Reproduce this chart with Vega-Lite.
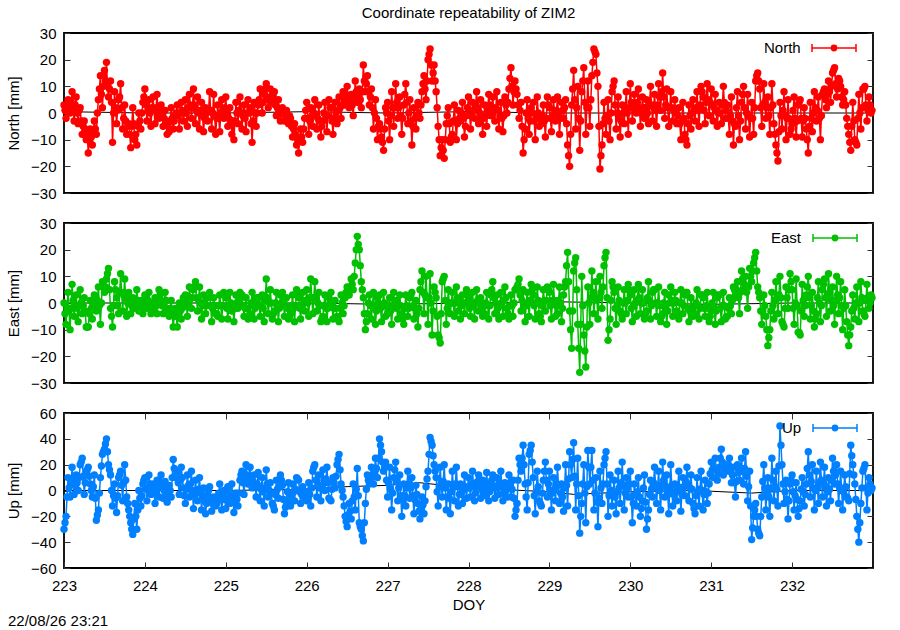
{
  "$schema": "https://vega.github.io/schema/vega-lite/v6.json",
  "background": "white",
  "padding": {"left": 5, "top": 5, "right": 5, "bottom": 0},
  "spacing": 13,
  "config": {
    "font": "Liberation Sans",
    "view": {"stroke": "black", "strokeWidth": 1.8},
    "axis": {
      "domain": false, "grid": false, "labelFlush": false,
      "labelFont": "Liberation Sans", "labelFontSize": 15, "labelColor": "black",
      "titleFont": "Liberation Sans", "titleFontSize": 15, "titleFontWeight": "normal", "titleColor": "black",
      "tickColor": "#333", "tickSize": -6, "tickWidth": 1, "labelPadding": 14
    },
    "legend": {
      "orient": "none", "titleOrient": "left", "titleFontSize": 15, "titleFontWeight": "normal",
      "titleFont": "Liberation Sans", "titleColor": "black", "titlePadding": 10, "padding": 0,
      "titleBaseline": "middle", "titleAnchor": "middle",
      "labelOffset": 0, "clipHeight": 12,
      "symbolType": "M-1,0H1M-1,-0.18V0.18M1,-0.18V0.18M0.12,0A0.12,0.12 0 1,1 -0.12,0A0.12,0.12 0 1,1 0.12,0Z",
      "symbolSize": 1936, "symbolStrokeWidth": 1.5
    }
  },
  "datasets": {
    "mN": [{"t":223,"v":0.5},{"t":224,"v":0},{"t":225,"v":0},{"t":226,"v":0.5},{"t":227,"v":0},{"t":228,"v":0.5},{"t":229,"v":0},{"t":230,"v":0},{"t":231,"v":0},{"t":232,"v":0},{"t":233,"v":0}],
    "mE": [{"t":223,"v":0},{"t":224,"v":0},{"t":225,"v":0},{"t":226,"v":0},{"t":227,"v":-0.5},{"t":228,"v":0},{"t":229,"v":0.5},{"t":230,"v":0},{"t":231,"v":-0.5},{"t":232,"v":0},{"t":233,"v":0}],
    "mU": [{"t":223,"v":0},{"t":224,"v":0},{"t":225,"v":0},{"t":226,"v":1},{"t":226.5,"v":3},{"t":227,"v":4},{"t":227.4,"v":6},{"t":228,"v":2},{"t":229,"v":-1},{"t":229.3,"v":-3},{"t":230,"v":-1},{"t":230.8,"v":0},{"t":231.5,"v":-2},{"t":232,"v":0},{"t":233,"v":0}],
    "north": [
      {"t":223,"v":3},{"t":223.025,"v":-2},{"t":223.05,"v":5},{"t":223.075,"v":0},
      {"t":223.1,"v":8},{"t":223.125,"v":-3},{"t":223.15,"v":6},{"t":223.175,"v":-4},
      {"t":223.2,"v":2},{"t":223.225,"v":-8},{"t":223.25,"v":-3},{"t":223.275,"v":-10},
      {"t":223.3,"v":-15},{"t":223.325,"v":-6},{"t":223.35,"v":-12},{"t":223.375,"v":-3},
      {"t":223.4,"v":-8},{"t":223.425,"v":5},{"t":223.45,"v":14},{"t":223.475,"v":2},
      {"t":223.5,"v":16},{"t":223.525,"v":19},{"t":223.55,"v":6},{"t":223.575,"v":12},
      {"t":223.6,"v":-11},{"t":223.625,"v":8},{"t":223.65,"v":-4},{"t":223.675,"v":5},
      {"t":223.7,"v":11},{"t":223.725,"v":-6},{"t":223.75,"v":3},{"t":223.775,"v":-8},
      {"t":223.8,"v":-4},{"t":223.825,"v":-13},{"t":223.85,"v":2},{"t":223.875,"v":-10},
      {"t":223.9,"v":-12},{"t":223.925,"v":0},{"t":223.95,"v":-6},{"t":223.975,"v":4},
      {"t":224,"v":9},{"t":224.025,"v":-3},{"t":224.05,"v":5},{"t":224.075,"v":-5},
      {"t":224.1,"v":6},{"t":224.125,"v":-4},{"t":224.15,"v":7},{"t":224.175,"v":-2},
      {"t":224.2,"v":3},{"t":224.225,"v":-5},{"t":224.25,"v":1},{"t":224.275,"v":-8},
      {"t":224.3,"v":-7},{"t":224.325,"v":2},{"t":224.35,"v":-6},{"t":224.375,"v":-1},
      {"t":224.4,"v":3},{"t":224.425,"v":-6},{"t":224.45,"v":4},{"t":224.475,"v":-3},
      {"t":224.5,"v":5},{"t":224.525,"v":-5},{"t":224.55,"v":7},{"t":224.575,"v":-2},
      {"t":224.6,"v":9},{"t":224.625,"v":-4},{"t":224.65,"v":6},{"t":224.675,"v":-6},
      {"t":224.7,"v":4},{"t":224.725,"v":-7},{"t":224.75,"v":2},{"t":224.775,"v":-3},
      {"t":224.8,"v":8},{"t":224.825,"v":-6},{"t":224.85,"v":7},{"t":224.875,"v":-8},
      {"t":224.9,"v":3},{"t":224.925,"v":-7},{"t":224.95,"v":5},{"t":224.975,"v":-2},
      {"t":225,"v":6},{"t":225.025,"v":-5},{"t":225.05,"v":2},{"t":225.075,"v":-8},
      {"t":225.1,"v":-10},{"t":225.125,"v":4},{"t":225.15,"v":-4},{"t":225.175,"v":6},
      {"t":225.2,"v":-6},{"t":225.225,"v":3},{"t":225.25,"v":-7},{"t":225.275,"v":5},
      {"t":225.3,"v":2},{"t":225.325,"v":-11},{"t":225.35,"v":4},{"t":225.375,"v":-5},
      {"t":225.4,"v":3},{"t":225.425,"v":9},{"t":225.45,"v":0},{"t":225.475,"v":7},
      {"t":225.5,"v":11},{"t":225.525,"v":2},{"t":225.55,"v":9},{"t":225.575,"v":4},
      {"t":225.6,"v":8},{"t":225.625,"v":-1},{"t":225.65,"v":5},{"t":225.675,"v":-3},
      {"t":225.7,"v":2},{"t":225.725,"v":-3},{"t":225.75,"v":1},{"t":225.775,"v":-4},
      {"t":225.8,"v":-2},{"t":225.825,"v":-9},{"t":225.85,"v":-4},{"t":225.875,"v":-12},
      {"t":225.9,"v":-15},{"t":225.925,"v":-6},{"t":225.95,"v":-11},{"t":225.975,"v":-2},
      {"t":226,"v":4},{"t":226.025,"v":-8},{"t":226.05,"v":2},{"t":226.075,"v":-5},
      {"t":226.1,"v":5},{"t":226.125,"v":-6},{"t":226.15,"v":3},{"t":226.175,"v":-9},
      {"t":226.2,"v":-3},{"t":226.225,"v":4},{"t":226.25,"v":-7},{"t":226.275,"v":5},
      {"t":226.3,"v":2},{"t":226.325,"v":-8},{"t":226.35,"v":4},{"t":226.375,"v":-4},
      {"t":226.4,"v":6},{"t":226.425,"v":-2},{"t":226.45,"v":8},{"t":226.475,"v":3},
      {"t":226.5,"v":10},{"t":226.525,"v":2},{"t":226.55,"v":7},{"t":226.575,"v":-1},
      {"t":226.6,"v":12},{"t":226.625,"v":4},{"t":226.65,"v":9},{"t":226.675,"v":2},
      {"t":226.7,"v":18},{"t":226.725,"v":8},{"t":226.75,"v":14},{"t":226.775,"v":3},
      {"t":226.8,"v":9},{"t":226.825,"v":-6},{"t":226.85,"v":5},{"t":226.875,"v":-10},
      {"t":226.9,"v":-4},{"t":226.925,"v":-9},{"t":226.95,"v":-14},{"t":226.975,"v":2},
      {"t":227,"v":4},{"t":227.025,"v":-10},{"t":227.05,"v":8},{"t":227.075,"v":-5},
      {"t":227.1,"v":11},{"t":227.125,"v":-2},{"t":227.15,"v":6},{"t":227.175,"v":-8},
      {"t":227.2,"v":3},{"t":227.225,"v":11},{"t":227.25,"v":-4},{"t":227.275,"v":5},
      {"t":227.3,"v":-12},{"t":227.325,"v":2},{"t":227.35,"v":-6},{"t":227.375,"v":4},
      {"t":227.4,"v":-2},{"t":227.425,"v":8},{"t":227.45,"v":14},{"t":227.475,"v":5},
      {"t":227.5,"v":20},{"t":227.525,"v":24},{"t":227.55,"v":12},{"t":227.575,"v":18},
      {"t":227.6,"v":8},{"t":227.625,"v":-5},{"t":227.65,"v":-16},{"t":227.675,"v":-10},
      {"t":227.7,"v":-17},{"t":227.725,"v":-4},{"t":227.75,"v":2},{"t":227.775,"v":-11},
      {"t":227.8,"v":-8},{"t":227.825,"v":3},{"t":227.85,"v":-10},{"t":227.875,"v":1},
      {"t":227.9,"v":-3},{"t":227.925,"v":4},{"t":227.95,"v":-9},{"t":227.975,"v":-1},
      {"t":228,"v":6},{"t":228.025,"v":-6},{"t":228.05,"v":4},{"t":228.075,"v":-2},
      {"t":228.1,"v":8},{"t":228.125,"v":-4},{"t":228.15,"v":5},{"t":228.175,"v":-8},
      {"t":228.2,"v":3},{"t":228.225,"v":-5},{"t":228.25,"v":7},{"t":228.275,"v":-1},
      {"t":228.3,"v":6},{"t":228.325,"v":-3},{"t":228.35,"v":8},{"t":228.375,"v":-6},
      {"t":228.4,"v":4},{"t":228.425,"v":-7},{"t":228.45,"v":6},{"t":228.475,"v":0},
      {"t":228.5,"v":9},{"t":228.525,"v":17},{"t":228.55,"v":3},{"t":228.575,"v":12},
      {"t":228.6,"v":7},{"t":228.625,"v":-2},{"t":228.65,"v":4},{"t":228.675,"v":-15},
      {"t":228.7,"v":-6},{"t":228.725,"v":5},{"t":228.75,"v":-8},{"t":228.775,"v":2},
      {"t":228.8,"v":4},{"t":228.825,"v":-10},{"t":228.85,"v":6},{"t":228.875,"v":-5},
      {"t":228.9,"v":-4},{"t":228.925,"v":3},{"t":228.95,"v":-9},{"t":228.975,"v":6},
      {"t":229,"v":2},{"t":229.025,"v":-7},{"t":229.05,"v":5},{"t":229.075,"v":-3},
      {"t":229.1,"v":6},{"t":229.125,"v":-8},{"t":229.15,"v":4},{"t":229.175,"v":-2},
      {"t":229.2,"v":5},{"t":229.225,"v":-12},{"t":229.25,"v":-20},{"t":229.275,"v":3},
      {"t":229.3,"v":16},{"t":229.325,"v":-6},{"t":229.35,"v":10},{"t":229.375,"v":-14},
      {"t":229.4,"v":8},{"t":229.425,"v":17},{"t":229.45,"v":-8},{"t":229.475,"v":12},
      {"t":229.5,"v":-5},{"t":229.525,"v":14},{"t":229.55,"v":24},{"t":229.575,"v":22},
      {"t":229.6,"v":10},{"t":229.625,"v":-21},{"t":229.65,"v":-12},{"t":229.675,"v":4},
      {"t":229.7,"v":-8},{"t":229.725,"v":5},{"t":229.75,"v":-10},{"t":229.775,"v":8},
      {"t":229.8,"v":12},{"t":229.825,"v":-6},{"t":229.85,"v":6},{"t":229.875,"v":-9},
      {"t":229.9,"v":3},{"t":229.925,"v":-4},{"t":229.95,"v":8},{"t":229.975,"v":-8},
      {"t":230,"v":11},{"t":230.025,"v":-3},{"t":230.05,"v":7},{"t":230.075,"v":0},
      {"t":230.1,"v":9},{"t":230.125,"v":-5},{"t":230.15,"v":6},{"t":230.175,"v":-2},
      {"t":230.2,"v":5},{"t":230.225,"v":-4},{"t":230.25,"v":10},{"t":230.275,"v":-3},
      {"t":230.3,"v":7},{"t":230.325,"v":-5},{"t":230.35,"v":11},{"t":230.375,"v":1},
      {"t":230.4,"v":15},{"t":230.425,"v":-2},{"t":230.45,"v":9},{"t":230.475,"v":-5},
      {"t":230.5,"v":8},{"t":230.525,"v":-3},{"t":230.55,"v":5},{"t":230.575,"v":-4},
      {"t":230.6,"v":2},{"t":230.625,"v":-10},{"t":230.65,"v":4},{"t":230.675,"v":-8},
      {"t":230.7,"v":-12},{"t":230.725,"v":3},{"t":230.75,"v":-6},{"t":230.775,"v":5},
      {"t":230.8,"v":-3},{"t":230.825,"v":8},{"t":230.85,"v":-5},{"t":230.875,"v":10},
      {"t":230.9,"v":6},{"t":230.925,"v":-4},{"t":230.95,"v":11},{"t":230.975,"v":-1},
      {"t":231,"v":9},{"t":231.025,"v":-3},{"t":231.05,"v":7},{"t":231.075,"v":-5},
      {"t":231.1,"v":4},{"t":231.125,"v":-4},{"t":231.15,"v":10},{"t":231.175,"v":-2},
      {"t":231.2,"v":3},{"t":231.225,"v":-8},{"t":231.25,"v":6},{"t":231.275,"v":-12},
      {"t":231.3,"v":-5},{"t":231.325,"v":8},{"t":231.35,"v":-10},{"t":231.375,"v":4},
      {"t":231.4,"v":10},{"t":231.425,"v":-6},{"t":231.45,"v":7},{"t":231.475,"v":-9},
      {"t":231.5,"v":4},{"t":231.525,"v":-8},{"t":231.55,"v":12},{"t":231.575,"v":15},
      {"t":231.6,"v":9},{"t":231.625,"v":-5},{"t":231.65,"v":11},{"t":231.675,"v":-2},
      {"t":231.7,"v":6},{"t":231.725,"v":-8},{"t":231.75,"v":11},{"t":231.775,"v":-4},
      {"t":231.8,"v":-12},{"t":231.825,"v":-18},{"t":231.85,"v":4},{"t":231.875,"v":-6},
      {"t":231.9,"v":8},{"t":231.925,"v":-10},{"t":231.95,"v":5},{"t":231.975,"v":-8},
      {"t":232,"v":-4},{"t":232.025,"v":6},{"t":232.05,"v":-9},{"t":232.075,"v":3},
      {"t":232.1,"v":5},{"t":232.125,"v":-9},{"t":232.15,"v":2},{"t":232.175,"v":-6},
      {"t":232.2,"v":-15},{"t":232.225,"v":4},{"t":232.25,"v":-7},{"t":232.275,"v":8},
      {"t":232.3,"v":-3},{"t":232.325,"v":6},{"t":232.35,"v":-10},{"t":232.375,"v":7},
      {"t":232.4,"v":9},{"t":232.425,"v":2},{"t":232.45,"v":12},{"t":232.475,"v":4},
      {"t":232.5,"v":15},{"t":232.525,"v":17},{"t":232.55,"v":6},{"t":232.575,"v":13},
      {"t":232.6,"v":10},{"t":232.625,"v":3},{"t":232.65,"v":8},{"t":232.675,"v":-2},
      {"t":232.7,"v":-8},{"t":232.725,"v":-14},{"t":232.75,"v":4},{"t":232.775,"v":-10},
      {"t":232.8,"v":-12},{"t":232.825,"v":7},{"t":232.85,"v":-6},{"t":232.875,"v":9},
      {"t":232.9,"v":10},{"t":232.925,"v":-3},{"t":232.95,"v":6},{"t":232.975,"v":0},
      {"t":223.0125,"v":1},{"t":223.0375,"v":2},{"t":223.0625,"v":1},{"t":223.0875,"v":4},
      {"t":223.1125,"v":2},{"t":223.1375,"v":3},{"t":223.1625,"v":0},{"t":223.1875,"v":1},
      {"t":223.2125,"v":-3},{"t":223.2375,"v":-5},{"t":223.2625,"v":-6},{"t":223.2875,"v":-8},
      {"t":223.3125,"v":-10},{"t":223.3375,"v":-9},{"t":223.3625,"v":-7},{"t":223.3875,"v":-6},
      {"t":223.4125,"v":0},{"t":223.4375,"v":9},{"t":223.4625,"v":7},{"t":223.4875,"v":10},
      {"t":223.5125,"v":12},{"t":223.5375,"v":10},{"t":223.5625,"v":9},{"t":223.5875,"v":4},
      {"t":223.6125,"v":0},{"t":223.6375,"v":2},{"t":223.6625,"v":1},{"t":223.6875,"v":6},
      {"t":223.7125,"v":2},{"t":223.7375,"v":-2},{"t":223.7625,"v":-3},{"t":223.7875,"v":-5},
      {"t":223.8125,"v":-8},{"t":223.8375,"v":-5},{"t":223.8625,"v":-4},{"t":223.8875,"v":-8},
      {"t":223.9125,"v":-5},{"t":223.9375,"v":-3},{"t":223.9625,"v":0},{"t":223.9875,"v":6},
      {"t":224.0125,"v":3},{"t":224.0375,"v":1},{"t":224.0625,"v":0},{"t":224.0875,"v":2},
      {"t":224.1125,"v":1},{"t":224.1375,"v":2},{"t":224.1625,"v":0},{"t":224.1875,"v":1},
      {"t":224.2125,"v":-1},{"t":224.2375,"v":-2},{"t":224.2625,"v":-3},{"t":224.2875,"v":-4},
      {"t":224.3125,"v":-3},{"t":224.3375,"v":-2},{"t":224.3625,"v":-3},{"t":224.3875,"v":0},
      {"t":224.4125,"v":-1},{"t":224.4375,"v":0},{"t":224.4625,"v":1},{"t":224.4875,"v":0},
      {"t":224.5125,"v":0},{"t":224.5375,"v":2},{"t":224.5625,"v":3},{"t":224.5875,"v":2},
      {"t":224.6125,"v":3},{"t":224.6375,"v":1},{"t":224.6625,"v":0},{"t":224.6875,"v":1},
      {"t":224.7125,"v":-1},{"t":224.7375,"v":-2},{"t":224.7625,"v":0},{"t":224.7875,"v":1},
      {"t":224.8125,"v":1},{"t":224.8375,"v":0},{"t":224.8625,"v":-1},{"t":224.8875,"v":-2},
      {"t":224.9125,"v":-2},{"t":224.9375,"v":0},{"t":224.9625,"v":1},{"t":224.9875,"v":2},
      {"t":225.0125,"v":0},{"t":225.0375,"v":-2},{"t":225.0625,"v":-3},{"t":225.0875,"v":-3},
      {"t":225.1125,"v":-3},{"t":225.1375,"v":0},{"t":225.1625,"v":1},{"t":225.1875,"v":0},
      {"t":225.2125,"v":-1},{"t":225.2375,"v":-2},{"t":225.2625,"v":0},{"t":225.2875,"v":0},
      {"t":225.3125,"v":-4},{"t":225.3375,"v":-3},{"t":225.3625,"v":0},{"t":225.3875,"v":0},
      {"t":225.4125,"v":5},{"t":225.4375,"v":4},{"t":225.4625,"v":4},{"t":225.4875,"v":9},
      {"t":225.5125,"v":6},{"t":225.5375,"v":5},{"t":225.5625,"v":6},{"t":225.5875,"v":6},
      {"t":225.6125,"v":3},{"t":225.6375,"v":2},{"t":225.6625,"v":1},{"t":225.6875,"v":0},
      {"t":225.7125,"v":0},{"t":225.7375,"v":-1},{"t":225.7625,"v":-2},{"t":225.7875,"v":-1},
      {"t":225.8125,"v":-5},{"t":225.8375,"v":-6},{"t":225.8625,"v":-8},{"t":225.8875,"v":-10},
      {"t":225.9125,"v":-10},{"t":225.9375,"v":-9},{"t":225.9625,"v":-6},{"t":225.9875,"v":1},
      {"t":226.0125,"v":-2},{"t":226.0375,"v":-3},{"t":226.0625,"v":-1},{"t":226.0875,"v":0},
      {"t":226.1125,"v":-1},{"t":226.1375,"v":-2},{"t":226.1625,"v":-3},{"t":226.1875,"v":-5},
      {"t":226.2125,"v":0},{"t":226.2375,"v":-1},{"t":226.2625,"v":-1},{"t":226.2875,"v":2},
      {"t":226.3125,"v":-3},{"t":226.3375,"v":-2},{"t":226.3625,"v":0},{"t":226.3875,"v":1},
      {"t":226.4125,"v":2},{"t":226.4375,"v":3},{"t":226.4625,"v":5},{"t":226.4875,"v":6},
      {"t":226.5125,"v":6},{"t":226.5375,"v":4},{"t":226.5625,"v":3},{"t":226.5875,"v":5},
      {"t":226.6125,"v":8},{"t":226.6375,"v":6},{"t":226.6625,"v":5},{"t":226.6875,"v":8},
      {"t":226.7125,"v":12},{"t":226.7375,"v":11},{"t":226.7625,"v":8},{"t":226.7875,"v":6},
      {"t":226.8125,"v":2},{"t":226.8375,"v":0},{"t":226.8625,"v":-2},{"t":226.8875,"v":-5},
      {"t":226.9125,"v":-6},{"t":226.9375,"v":-11},{"t":226.9625,"v":-6},{"t":226.9875,"v":0},
      {"t":227.0125,"v":-3},{"t":227.0375,"v":-1},{"t":227.0625,"v":2},{"t":227.0875,"v":2},
      {"t":227.1125,"v":4},{"t":227.1375,"v":2},{"t":227.1625,"v":-1},{"t":227.1875,"v":-2},
      {"t":227.2125,"v":7},{"t":227.2375,"v":4},{"t":227.2625,"v":0},{"t":227.2875,"v":-3},
      {"t":227.3125,"v":-5},{"t":227.3375,"v":-2},{"t":227.3625,"v":-1},{"t":227.3875,"v":0},
      {"t":227.4125,"v":3},{"t":227.4375,"v":11},{"t":227.4625,"v":9},{"t":227.4875,"v":12},
      {"t":227.5125,"v":22},{"t":227.5375,"v":18},{"t":227.5625,"v":15},{"t":227.5875,"v":12},
      {"t":227.6125,"v":2},{"t":227.6375,"v":-10},{"t":227.6625,"v":-13},{"t":227.6875,"v":-14},
      {"t":227.7125,"v":-10},{"t":227.7375,"v":-1},{"t":227.7625,"v":-4},{"t":227.7875,"v":-9},
      {"t":227.8125,"v":-3},{"t":227.8375,"v":-3},{"t":227.8625,"v":-4},{"t":227.8875,"v":-2},
      {"t":227.9125,"v":0},{"t":227.9375,"v":-2},{"t":227.9625,"v":-5},{"t":227.9875,"v":2},
      {"t":228.0125,"v":0},{"t":228.0375,"v":-1},{"t":228.0625,"v":1},{"t":228.0875,"v":3},
      {"t":228.1125,"v":2},{"t":228.1375,"v":0},{"t":228.1625,"v":-2},{"t":228.1875,"v":-2},
      {"t":228.2125,"v":-1},{"t":228.2375,"v":1},{"t":228.2625,"v":3},{"t":228.2875,"v":2},
      {"t":228.3125,"v":1},{"t":228.3375,"v":2},{"t":228.3625,"v":1},{"t":228.3875,"v":-1},
      {"t":228.4125,"v":-2},{"t":228.4375,"v":-1},{"t":228.4625,"v":3},{"t":228.4875,"v":4},
      {"t":228.5125,"v":13},{"t":228.5375,"v":10},{"t":228.5625,"v":8},{"t":228.5875,"v":9},
      {"t":228.6125,"v":3},{"t":228.6375,"v":1},{"t":228.6625,"v":-5},{"t":228.6875,"v":-10},
      {"t":228.7125,"v":0},{"t":228.7375,"v":-2},{"t":228.7625,"v":-3},{"t":228.7875,"v":0},
      {"t":228.8125,"v":-3},{"t":228.8375,"v":-2},{"t":228.8625,"v":0},{"t":228.8875,"v":-1},
      {"t":228.9125,"v":-1},{"t":228.9375,"v":-3},{"t":228.9625,"v":-2},{"t":228.9875,"v":3},
      {"t":229.0125,"v":-2},{"t":229.0375,"v":-1},{"t":229.0625,"v":1},{"t":229.0875,"v":1},
      {"t":229.1125,"v":-1},{"t":229.1375,"v":-2},{"t":229.1625,"v":1},{"t":229.1875,"v":2},
      {"t":229.2125,"v":-4},{"t":229.2375,"v":-16},{"t":229.2625,"v":-8},{"t":229.2875,"v":9},
      {"t":229.3125,"v":5},{"t":229.3375,"v":2},{"t":229.3625,"v":-2},{"t":229.3875,"v":-3},
      {"t":229.4125,"v":12},{"t":229.4375,"v":4},{"t":229.4625,"v":2},{"t":229.4875,"v":2},
      {"t":229.5125,"v":5},{"t":229.5375,"v":19},{"t":229.5625,"v":23},{"t":229.5875,"v":15},
      {"t":229.6125,"v":-5},{"t":229.6375,"v":-16},{"t":229.6625,"v":-4},{"t":229.6875,"v":-2},
      {"t":229.7125,"v":-1},{"t":229.7375,"v":-3},{"t":229.7625,"v":0},{"t":229.7875,"v":10},
      {"t":229.8125,"v":3},{"t":229.8375,"v":0},{"t":229.8625,"v":-2},{"t":229.8875,"v":-3},
      {"t":229.9125,"v":0},{"t":229.9375,"v":2},{"t":229.9625,"v":0},{"t":229.9875,"v":2},
      {"t":230.0125,"v":4},{"t":230.0375,"v":2},{"t":230.0625,"v":3},{"t":230.0875,"v":4},
      {"t":230.1125,"v":2},{"t":230.1375,"v":0},{"t":230.1625,"v":2},{"t":230.1875,"v":2},
      {"t":230.2125,"v":0},{"t":230.2375,"v":3},{"t":230.2625,"v":3},{"t":230.2875,"v":2},
      {"t":230.3125,"v":1},{"t":230.3375,"v":3},{"t":230.3625,"v":6},{"t":230.3875,"v":8},
      {"t":230.4125,"v":6},{"t":230.4375,"v":3},{"t":230.4625,"v":2},{"t":230.4875,"v":2},
      {"t":230.5125,"v":2},{"t":230.5375,"v":1},{"t":230.5625,"v":0},{"t":230.5875,"v":-1},
      {"t":230.6125,"v":-4},{"t":230.6375,"v":-3},{"t":230.6625,"v":-2},{"t":230.6875,"v":-10},
      {"t":230.7125,"v":-4},{"t":230.7375,"v":-1},{"t":230.7625,"v":0},{"t":230.7875,"v":1},
      {"t":230.8125,"v":2},{"t":230.8375,"v":1},{"t":230.8625,"v":3},{"t":230.8875,"v":8},
      {"t":230.9125,"v":1},{"t":230.9375,"v":4},{"t":230.9625,"v":5},{"t":230.9875,"v":4},
      {"t":231.0125,"v":3},{"t":231.0375,"v":2},{"t":231.0625,"v":1},{"t":231.0875,"v":0},
      {"t":231.1125,"v":0},{"t":231.1375,"v":3},{"t":231.1625,"v":4},{"t":231.1875,"v":1},
      {"t":231.2125,"v":-2},{"t":231.2375,"v":-1},{"t":231.2625,"v":-3},{"t":231.2875,"v":-4},
      {"t":231.3125,"v":2},{"t":231.3375,"v":-1},{"t":231.3625,"v":-3},{"t":231.3875,"v":7},
      {"t":231.4125,"v":2},{"t":231.4375,"v":0},{"t":231.4625,"v":-1},{"t":231.4875,"v":-2},
      {"t":231.5125,"v":-2},{"t":231.5375,"v":2},{"t":231.5625,"v":14},{"t":231.5875,"v":12},
      {"t":231.6125,"v":2},{"t":231.6375,"v":3},{"t":231.6625,"v":4},{"t":231.6875,"v":2},
      {"t":231.7125,"v":-1},{"t":231.7375,"v":2},{"t":231.7625,"v":3},{"t":231.7875,"v":-8},
      {"t":231.8125,"v":-15},{"t":231.8375,"v":-7},{"t":231.8625,"v":-1},{"t":231.8875,"v":1},
      {"t":231.9125,"v":-1},{"t":231.9375,"v":-2},{"t":231.9625,"v":-2},{"t":231.9875,"v":-6},
      {"t":232.0125,"v":1},{"t":232.0375,"v":-2},{"t":232.0625,"v":-3},{"t":232.0875,"v":4},
      {"t":232.1125,"v":-2},{"t":232.1375,"v":-3},{"t":232.1625,"v":-2},{"t":232.1875,"v":-10},
      {"t":232.2125,"v":-5},{"t":232.2375,"v":-2},{"t":232.2625,"v":0},{"t":232.2875,"v":2},
      {"t":232.3125,"v":1},{"t":232.3375,"v":-2},{"t":232.3625,"v":-1},{"t":232.3875,"v":8},
      {"t":232.4125,"v":5},{"t":232.4375,"v":7},{"t":232.4625,"v":8},{"t":232.4875,"v":10},
      {"t":232.5125,"v":16},{"t":232.5375,"v":11},{"t":232.5625,"v":9},{"t":232.5875,"v":12},
      {"t":232.6125,"v":6},{"t":232.6375,"v":5},{"t":232.6625,"v":3},{"t":232.6875,"v":-5},
      {"t":232.7125,"v":-11},{"t":232.7375,"v":-5},{"t":232.7625,"v":-3},{"t":232.7875,"v":-11},
      {"t":232.8125,"v":-2},{"t":232.8375,"v":0},{"t":232.8625,"v":2},{"t":232.8875,"v":9},
      {"t":232.9125,"v":3},{"t":232.9375,"v":1},{"t":232.9625,"v":3},{"t":232.9875,"v":1}
    ],
    "east": [
      {"t":223,"v":0},{"t":223.025,"v":-8},{"t":223.05,"v":4},{"t":223.075,"v":-10},
      {"t":223.1,"v":7},{"t":223.125,"v":-5},{"t":223.15,"v":3},{"t":223.175,"v":-7},
      {"t":223.2,"v":5},{"t":223.225,"v":-4},{"t":223.25,"v":2},{"t":223.275,"v":-9},
      {"t":223.3,"v":-9},{"t":223.325,"v":1},{"t":223.35,"v":-6},{"t":223.375,"v":3},
      {"t":223.4,"v":-3},{"t":223.425,"v":6},{"t":223.45,"v":-8},{"t":223.475,"v":8},
      {"t":223.5,"v":4},{"t":223.525,"v":9},{"t":223.55,"v":13},{"t":223.575,"v":-2},
      {"t":223.6,"v":-9},{"t":223.625,"v":8},{"t":223.65,"v":2},{"t":223.675,"v":-4},
      {"t":223.7,"v":11},{"t":223.725,"v":-3},{"t":223.75,"v":9},{"t":223.775,"v":-5},
      {"t":223.8,"v":4},{"t":223.825,"v":-4},{"t":223.85,"v":2},{"t":223.875,"v":-2},
      {"t":223.9,"v":5},{"t":223.925,"v":-3},{"t":223.95,"v":1},{"t":223.975,"v":-4},
      {"t":224,"v":3},{"t":224.025,"v":-2},{"t":224.05,"v":4},{"t":224.075,"v":-4},
      {"t":224.1,"v":-3},{"t":224.125,"v":2},{"t":224.15,"v":-4},{"t":224.175,"v":5},
      {"t":224.2,"v":1},{"t":224.225,"v":-4},{"t":224.25,"v":4},{"t":224.275,"v":-2},
      {"t":224.3,"v":-5},{"t":224.325,"v":1},{"t":224.35,"v":-9},{"t":224.375,"v":-2},
      {"t":224.4,"v":-9},{"t":224.425,"v":0},{"t":224.45,"v":-6},{"t":224.475,"v":2},
      {"t":224.5,"v":3},{"t":224.525,"v":-5},{"t":224.55,"v":6},{"t":224.575,"v":-2},
      {"t":224.6,"v":5},{"t":224.625,"v":8},{"t":224.65,"v":-3},{"t":224.675,"v":6},
      {"t":224.7,"v":-6},{"t":224.725,"v":3},{"t":224.75,"v":-4},{"t":224.775,"v":2},
      {"t":224.8,"v":4},{"t":224.825,"v":-7},{"t":224.85,"v":2},{"t":224.875,"v":-4},
      {"t":224.9,"v":-5},{"t":224.925,"v":3},{"t":224.95,"v":-6},{"t":224.975,"v":4},
      {"t":225,"v":2},{"t":225.025,"v":-6},{"t":225.05,"v":4},{"t":225.075,"v":-3},
      {"t":225.1,"v":-7},{"t":225.125,"v":3},{"t":225.15,"v":-2},{"t":225.175,"v":4},
      {"t":225.2,"v":3},{"t":225.225,"v":-5},{"t":225.25,"v":2},{"t":225.275,"v":-6},
      {"t":225.3,"v":-4},{"t":225.325,"v":4},{"t":225.35,"v":-6},{"t":225.375,"v":2},
      {"t":225.4,"v":2},{"t":225.425,"v":-5},{"t":225.45,"v":3},{"t":225.475,"v":-7},
      {"t":225.5,"v":9},{"t":225.525,"v":-4},{"t":225.55,"v":5},{"t":225.575,"v":-6},
      {"t":225.6,"v":-3},{"t":225.625,"v":4},{"t":225.65,"v":-7},{"t":225.675,"v":3},
      {"t":225.7,"v":4},{"t":225.725,"v":-5},{"t":225.75,"v":2},{"t":225.775,"v":-6},
      {"t":225.8,"v":-4},{"t":225.825,"v":3},{"t":225.85,"v":-7},{"t":225.875,"v":5},
      {"t":225.9,"v":2},{"t":225.925,"v":-6},{"t":225.95,"v":4},{"t":225.975,"v":-3},
      {"t":226,"v":5},{"t":226.025,"v":-5},{"t":226.05,"v":9},{"t":226.075,"v":-4},
      {"t":226.1,"v":8},{"t":226.125,"v":-3},{"t":226.15,"v":4},{"t":226.175,"v":-7},
      {"t":226.2,"v":-5},{"t":226.225,"v":3},{"t":226.25,"v":-7},{"t":226.275,"v":2},
      {"t":226.3,"v":4},{"t":226.325,"v":-6},{"t":226.35,"v":1},{"t":226.375,"v":-5},
      {"t":226.4,"v":-7},{"t":226.425,"v":3},{"t":226.45,"v":-4},{"t":226.475,"v":2},
      {"t":226.5,"v":6},{"t":226.525,"v":3},{"t":226.55,"v":9},{"t":226.575,"v":5},
      {"t":226.6,"v":15},{"t":226.625,"v":25},{"t":226.65,"v":20},{"t":226.675,"v":8},
      {"t":226.7,"v":2},{"t":226.725,"v":-10},{"t":226.75,"v":-4},{"t":226.775,"v":3},
      {"t":226.8,"v":-6},{"t":226.825,"v":4},{"t":226.85,"v":-8},{"t":226.875,"v":2},
      {"t":226.9,"v":3},{"t":226.925,"v":-7},{"t":226.95,"v":4},{"t":226.975,"v":-5},
      {"t":227,"v":-4},{"t":227.025,"v":2},{"t":227.05,"v":-8},{"t":227.075,"v":4},
      {"t":227.1,"v":1},{"t":227.125,"v":-6},{"t":227.15,"v":3},{"t":227.175,"v":-4},
      {"t":227.2,"v":-8},{"t":227.225,"v":3},{"t":227.25,"v":-5},{"t":227.275,"v":2},
      {"t":227.3,"v":4},{"t":227.325,"v":-6},{"t":227.35,"v":1},{"t":227.375,"v":-9},
      {"t":227.4,"v":5},{"t":227.425,"v":12},{"t":227.45,"v":-4},{"t":227.475,"v":10},
      {"t":227.5,"v":-8},{"t":227.525,"v":11},{"t":227.55,"v":-12},{"t":227.575,"v":6},
      {"t":227.6,"v":2},{"t":227.625,"v":-12},{"t":227.65,"v":-15},{"t":227.675,"v":8},
      {"t":227.7,"v":10},{"t":227.725,"v":-8},{"t":227.75,"v":5},{"t":227.775,"v":-4},
      {"t":227.8,"v":4},{"t":227.825,"v":-5},{"t":227.85,"v":6},{"t":227.875,"v":-3},
      {"t":227.9,"v":-6},{"t":227.925,"v":3},{"t":227.95,"v":-4},{"t":227.975,"v":5},
      {"t":228,"v":2},{"t":228.025,"v":-5},{"t":228.05,"v":4},{"t":228.075,"v":-6},
      {"t":228.1,"v":5},{"t":228.125,"v":-3},{"t":228.15,"v":2},{"t":228.175,"v":-5},
      {"t":228.2,"v":-4},{"t":228.225,"v":4},{"t":228.25,"v":-6},{"t":228.275,"v":3},
      {"t":228.3,"v":8},{"t":228.325,"v":-4},{"t":228.35,"v":3},{"t":228.375,"v":-6},
      {"t":228.4,"v":4},{"t":228.425,"v":-5},{"t":228.45,"v":6},{"t":228.475,"v":-2},
      {"t":228.5,"v":-6},{"t":228.525,"v":3},{"t":228.55,"v":-5},{"t":228.575,"v":5},
      {"t":228.6,"v":6},{"t":228.625,"v":9},{"t":228.65,"v":-3},{"t":228.675,"v":5},
      {"t":228.7,"v":-7},{"t":228.725,"v":4},{"t":228.75,"v":-5},{"t":228.775,"v":7},
      {"t":228.8,"v":3},{"t":228.825,"v":-6},{"t":228.85,"v":6},{"t":228.875,"v":-4},
      {"t":228.9,"v":-7},{"t":228.925,"v":5},{"t":228.95,"v":-3},{"t":228.975,"v":6},
      {"t":229,"v":4},{"t":229.025,"v":-6},{"t":229.05,"v":7},{"t":229.075,"v":-5},
      {"t":229.1,"v":-4},{"t":229.125,"v":6},{"t":229.15,"v":-7},{"t":229.175,"v":3},
      {"t":229.2,"v":8},{"t":229.225,"v":19},{"t":229.25,"v":-3},{"t":229.275,"v":-17},
      {"t":229.3,"v":12},{"t":229.325,"v":17},{"t":229.35,"v":-8},{"t":229.375,"v":-26},
      {"t":229.4,"v":10},{"t":229.425,"v":-12},{"t":229.45,"v":-24},{"t":229.475,"v":6},
      {"t":229.5,"v":-8},{"t":229.525,"v":12},{"t":229.55,"v":-4},{"t":229.575,"v":8},
      {"t":229.6,"v":-6},{"t":229.625,"v":10},{"t":229.65,"v":-2},{"t":229.675,"v":14},
      {"t":229.7,"v":19},{"t":229.725,"v":-14},{"t":229.75,"v":-6},{"t":229.775,"v":8},
      {"t":229.8,"v":4},{"t":229.825,"v":-8},{"t":229.85,"v":6},{"t":229.875,"v":-3},
      {"t":229.9,"v":-6},{"t":229.925,"v":5},{"t":229.95,"v":-4},{"t":229.975,"v":7},
      {"t":230,"v":3},{"t":230.025,"v":-7},{"t":230.05,"v":5},{"t":230.075,"v":-5},
      {"t":230.1,"v":7},{"t":230.125,"v":-4},{"t":230.15,"v":5},{"t":230.175,"v":-6},
      {"t":230.2,"v":-3},{"t":230.225,"v":8},{"t":230.25,"v":-6},{"t":230.275,"v":4},
      {"t":230.3,"v":5},{"t":230.325,"v":-5},{"t":230.35,"v":6},{"t":230.375,"v":-7},
      {"t":230.4,"v":-4},{"t":230.425,"v":4},{"t":230.45,"v":-8},{"t":230.475,"v":3},
      {"t":230.5,"v":6},{"t":230.525,"v":-5},{"t":230.55,"v":4},{"t":230.575,"v":-3},
      {"t":230.6,"v":-6},{"t":230.625,"v":5},{"t":230.65,"v":-4},{"t":230.675,"v":3},
      {"t":230.7,"v":4},{"t":230.725,"v":-7},{"t":230.75,"v":2},{"t":230.775,"v":-5},
      {"t":230.8,"v":-4},{"t":230.825,"v":5},{"t":230.85,"v":-6},{"t":230.875,"v":3},
      {"t":230.9,"v":2},{"t":230.925,"v":-5},{"t":230.95,"v":4},{"t":230.975,"v":-7},
      {"t":231,"v":-3},{"t":231.025,"v":4},{"t":231.05,"v":-8},{"t":231.075,"v":2},
      {"t":231.1,"v":3},{"t":231.125,"v":-7},{"t":231.15,"v":4},{"t":231.175,"v":-6},
      {"t":231.2,"v":-5},{"t":231.225,"v":2},{"t":231.25,"v":-4},{"t":231.275,"v":6},
      {"t":231.3,"v":3},{"t":231.325,"v":8},{"t":231.35,"v":-4},{"t":231.375,"v":12},
      {"t":231.4,"v":5},{"t":231.425,"v":10},{"t":231.45,"v":-2},{"t":231.475,"v":13},
      {"t":231.5,"v":8},{"t":231.525,"v":15},{"t":231.55,"v":19},{"t":231.575,"v":6},
      {"t":231.6,"v":2},{"t":231.625,"v":-8},{"t":231.65,"v":3},{"t":231.675,"v":-5},
      {"t":231.7,"v":-16},{"t":231.725,"v":-10},{"t":231.75,"v":4},{"t":231.775,"v":-6},
      {"t":231.8,"v":8},{"t":231.825,"v":-4},{"t":231.85,"v":10},{"t":231.875,"v":-7},
      {"t":231.9,"v":-9},{"t":231.925,"v":6},{"t":231.95,"v":-2},{"t":231.975,"v":11},
      {"t":232,"v":5},{"t":232.025,"v":-8},{"t":232.05,"v":9},{"t":232.075,"v":-11},
      {"t":232.1,"v":-12},{"t":232.125,"v":7},{"t":232.15,"v":-5},{"t":232.175,"v":3},
      {"t":232.2,"v":10},{"t":232.225,"v":-6},{"t":232.25,"v":4},{"t":232.275,"v":-9},
      {"t":232.3,"v":-4},{"t":232.325,"v":8},{"t":232.35,"v":-7},{"t":232.375,"v":5},
      {"t":232.4,"v":9},{"t":232.425,"v":-5},{"t":232.45,"v":11},{"t":232.475,"v":-3},
      {"t":232.5,"v":6},{"t":232.525,"v":-8},{"t":232.55,"v":10},{"t":232.575,"v":-4},
      {"t":232.6,"v":8},{"t":232.625,"v":-10},{"t":232.65,"v":5},{"t":232.675,"v":-7},
      {"t":232.7,"v":-16},{"t":232.725,"v":-9},{"t":232.75,"v":3},{"t":232.775,"v":-6},
      {"t":232.8,"v":6},{"t":232.825,"v":-7},{"t":232.85,"v":8},{"t":232.875,"v":-3},
      {"t":232.9,"v":-5},{"t":232.925,"v":7},{"t":232.95,"v":-2},{"t":232.975,"v":3},
      {"t":223.0125,"v":-4},{"t":223.0375,"v":-2},{"t":223.0625,"v":-3},{"t":223.0875,"v":-2},
      {"t":223.1125,"v":1},{"t":223.1375,"v":-1},{"t":223.1625,"v":-2},{"t":223.1875,"v":-1},
      {"t":223.2125,"v":0},{"t":223.2375,"v":-1},{"t":223.2625,"v":-3},{"t":223.2875,"v":-9},
      {"t":223.3125,"v":-4},{"t":223.3375,"v":-2},{"t":223.3625,"v":-1},{"t":223.3875,"v":0},
      {"t":223.4125,"v":1},{"t":223.4375,"v":-1},{"t":223.4625,"v":0},{"t":223.4875,"v":6},
      {"t":223.5125,"v":6},{"t":223.5375,"v":11},{"t":223.5625,"v":5},{"t":223.5875,"v":-5},
      {"t":223.6125,"v":-1},{"t":223.6375,"v":5},{"t":223.6625,"v":-1},{"t":223.6875,"v":4},
      {"t":223.7125,"v":4},{"t":223.7375,"v":3},{"t":223.7625,"v":2},{"t":223.7875,"v":0},
      {"t":223.8125,"v":0},{"t":223.8375,"v":-1},{"t":223.8625,"v":0},{"t":223.8875,"v":1},
      {"t":223.9125,"v":1},{"t":223.9375,"v":-1},{"t":223.9625,"v":-2},{"t":223.9875,"v":0},
      {"t":224.0125,"v":0},{"t":224.0375,"v":1},{"t":224.0625,"v":0},{"t":224.0875,"v":0},
      {"t":224.1125,"v":-1},{"t":224.1375,"v":-1},{"t":224.1625,"v":0},{"t":224.1875,"v":3},
      {"t":224.2125,"v":-1},{"t":224.2375,"v":0},{"t":224.2625,"v":1},{"t":224.2875,"v":-3},
      {"t":224.3125,"v":-2},{"t":224.3375,"v":-4},{"t":224.3625,"v":-5},{"t":224.3875,"v":-5},
      {"t":224.4125,"v":-4},{"t":224.4375,"v":-3},{"t":224.4625,"v":-2},{"t":224.4875,"v":0},
      {"t":224.5125,"v":-1},{"t":224.5375,"v":0},{"t":224.5625,"v":2},{"t":224.5875,"v":2},
      {"t":224.6125,"v":6},{"t":224.6375,"v":2},{"t":224.6625,"v":1},{"t":224.6875,"v":0},
      {"t":224.7125,"v":-1},{"t":224.7375,"v":0},{"t":224.7625,"v":-1},{"t":224.7875,"v":3},
      {"t":224.8125,"v":-1},{"t":224.8375,"v":-2},{"t":224.8625,"v":-1},{"t":224.8875,"v":-4},
      {"t":224.9125,"v":-1},{"t":224.9375,"v":-1},{"t":224.9625,"v":-1},{"t":224.9875,"v":3},
      {"t":225.0125,"v":-2},{"t":225.0375,"v":-1},{"t":225.0625,"v":0},{"t":225.0875,"v":-2},
      {"t":225.1125,"v":-2},{"t":225.1375,"v":0},{"t":225.1625,"v":1},{"t":225.1875,"v":3},
      {"t":225.2125,"v":-1},{"t":225.2375,"v":-2},{"t":225.2625,"v":-2},{"t":225.2875,"v":-5},
      {"t":225.3125,"v":0},{"t":225.3375,"v":-1},{"t":225.3625,"v":-2},{"t":225.3875,"v":0},
      {"t":225.4125,"v":-1},{"t":225.4375,"v":-1},{"t":225.4625,"v":-2},{"t":225.4875,"v":1},
      {"t":225.5125,"v":2},{"t":225.5375,"v":0},{"t":225.5625,"v":0},{"t":225.5875,"v":-4},
      {"t":225.6125,"v":0},{"t":225.6375,"v":-1},{"t":225.6625,"v":-2},{"t":225.6875,"v":0},
      {"t":225.7125,"v":0},{"t":225.7375,"v":-1},{"t":225.7625,"v":-2},{"t":225.7875,"v":-5},
      {"t":225.8125,"v":-1},{"t":225.8375,"v":-2},{"t":225.8625,"v":-1},{"t":225.8875,"v":3},
      {"t":225.9125,"v":-2},{"t":225.9375,"v":-1},{"t":225.9625,"v":0},{"t":225.9875,"v":1},
      {"t":226.0125,"v":0},{"t":226.0375,"v":2},{"t":226.0625,"v":2},{"t":226.0875,"v":2},
      {"t":226.1125,"v":2},{"t":226.1375,"v":0},{"t":226.1625,"v":-1},{"t":226.1875,"v":-6},
      {"t":226.2125,"v":-1},{"t":226.2375,"v":-2},{"t":226.2625,"v":-2},{"t":226.2875,"v":0},
      {"t":226.3125,"v":-1},{"t":226.3375,"v":-2},{"t":226.3625,"v":-2},{"t":226.3875,"v":-6},
      {"t":226.4125,"v":-2},{"t":226.4375,"v":0},{"t":226.4625,"v":-1},{"t":226.4875,"v":4},
      {"t":226.5125,"v":4},{"t":226.5375,"v":6},{"t":226.5625,"v":7},{"t":226.5875,"v":10},
      {"t":226.6125,"v":20},{"t":226.6375,"v":22},{"t":226.6625,"v":14},{"t":226.6875,"v":5},
      {"t":226.7125,"v":-4},{"t":226.7375,"v":-7},{"t":226.7625,"v":0},{"t":226.7875,"v":-1},
      {"t":226.8125,"v":-1},{"t":226.8375,"v":-2},{"t":226.8625,"v":-3},{"t":226.8875,"v":0},
      {"t":226.9125,"v":-2},{"t":226.9375,"v":-1},{"t":226.9625,"v":0},{"t":226.9875,"v":-1},
      {"t":227.0125,"v":-1},{"t":227.0375,"v":-3},{"t":227.0625,"v":-2},{"t":227.0875,"v":0},
      {"t":227.1125,"v":-2},{"t":227.1375,"v":-1},{"t":227.1625,"v":-1},{"t":227.1875,"v":-6},
      {"t":227.2125,"v":-2},{"t":227.2375,"v":-1},{"t":227.2625,"v":-2},{"t":227.2875,"v":3},
      {"t":227.3125,"v":-1},{"t":227.3375,"v":-2},{"t":227.3625,"v":-4},{"t":227.3875,"v":-2},
      {"t":227.4125,"v":8},{"t":227.4375,"v":4},{"t":227.4625,"v":3},{"t":227.4875,"v":2},
      {"t":227.5125,"v":2},{"t":227.5375,"v":0},{"t":227.5625,"v":-3},{"t":227.5875,"v":4},
      {"t":227.6125,"v":-5},{"t":227.6375,"v":-13},{"t":227.6625,"v":-4},{"t":227.6875,"v":9},
      {"t":227.7125,"v":1},{"t":227.7375,"v":-2},{"t":227.7625,"v":0},{"t":227.7875,"v":0},
      {"t":227.8125,"v":0},{"t":227.8375,"v":0},{"t":227.8625,"v":2},{"t":227.8875,"v":1},
      {"t":227.9125,"v":-1},{"t":227.9375,"v":0},{"t":227.9625,"v":0},{"t":227.9875,"v":3},
      {"t":228.0125,"v":-2},{"t":228.0375,"v":0},{"t":228.0625,"v":-1},{"t":228.0875,"v":0},
      {"t":228.1125,"v":1},{"t":228.1375,"v":0},{"t":228.1625,"v":-2},{"t":228.1875,"v":-4},
      {"t":228.2125,"v":0},{"t":228.2375,"v":-1},{"t":228.2625,"v":-1},{"t":228.2875,"v":5},
      {"t":228.3125,"v":2},{"t":228.3375,"v":0},{"t":228.3625,"v":-2},{"t":228.3875,"v":-1},
      {"t":228.4125,"v":0},{"t":228.4375,"v":1},{"t":228.4625,"v":2},{"t":228.4875,"v":-4},
      {"t":228.5125,"v":-1},{"t":228.5375,"v":-1},{"t":228.5625,"v":0},{"t":228.5875,"v":5},
      {"t":228.6125,"v":7},{"t":228.6375,"v":3},{"t":228.6625,"v":1},{"t":228.6875,"v":-1},
      {"t":228.7125,"v":-1},{"t":228.7375,"v":0},{"t":228.7625,"v":1},{"t":228.7875,"v":5},
      {"t":228.8125,"v":-1},{"t":228.8375,"v":0},{"t":228.8625,"v":1},{"t":228.8875,"v":-5},
      {"t":228.9125,"v":-1},{"t":228.9375,"v":1},{"t":228.9625,"v":1},{"t":228.9875,"v":5},
      {"t":229.0125,"v":-1},{"t":229.0375,"v":1},{"t":229.0625,"v":1},{"t":229.0875,"v":-1},
      {"t":229.1125,"v":1},{"t":229.1375,"v":0},{"t":229.1625,"v":-2},{"t":229.1875,"v":6},
      {"t":229.2125,"v":14},{"t":229.2375,"v":8},{"t":229.2625,"v":-10},{"t":229.2875,"v":-3},
      {"t":229.3125,"v":15},{"t":229.3375,"v":5},{"t":229.3625,"v":-17},{"t":229.3875,"v":-8},
      {"t":229.4125,"v":-1},{"t":229.4375,"v":-18},{"t":229.4625,"v":-9},{"t":229.4875,"v":0},
      {"t":229.5125,"v":2},{"t":229.5375,"v":4},{"t":229.5625,"v":2},{"t":229.5875,"v":1},
      {"t":229.6125,"v":2},{"t":229.6375,"v":4},{"t":229.6625,"v":6},{"t":229.6875,"v":17},
      {"t":229.7125,"v":2},{"t":229.7375,"v":-10},{"t":229.7625,"v":1},{"t":229.7875,"v":6},
      {"t":229.8125,"v":-2},{"t":229.8375,"v":-1},{"t":229.8625,"v":1},{"t":229.8875,"v":-4},
      {"t":229.9125,"v":0},{"t":229.9375,"v":0},{"t":229.9625,"v":1},{"t":229.9875,"v":5},
      {"t":230.0125,"v":-2},{"t":230.0375,"v":-1},{"t":230.0625,"v":0},{"t":230.0875,"v":1},
      {"t":230.1125,"v":2},{"t":230.1375,"v":0},{"t":230.1625,"v":0},{"t":230.1875,"v":-4},
      {"t":230.2125,"v":2},{"t":230.2375,"v":1},{"t":230.2625,"v":-1},{"t":230.2875,"v":5},
      {"t":230.3125,"v":0},{"t":230.3375,"v":0},{"t":230.3625,"v":-1},{"t":230.3875,"v":-5},
      {"t":230.4125,"v":0},{"t":230.4375,"v":-2},{"t":230.4625,"v":-3},{"t":230.4875,"v":0},
      {"t":230.5125,"v":1},{"t":230.5375,"v":0},{"t":230.5625,"v":1},{"t":230.5875,"v":-4},
      {"t":230.6125,"v":0},{"t":230.6375,"v":0},{"t":230.6625,"v":-1},{"t":230.6875,"v":4},
      {"t":230.7125,"v":-2},{"t":230.7375,"v":-3},{"t":230.7625,"v":-2},{"t":230.7875,"v":-4},
      {"t":230.8125,"v":0},{"t":230.8375,"v":-1},{"t":230.8625,"v":-2},{"t":230.8875,"v":3},
      {"t":230.9125,"v":-2},{"t":230.9375,"v":-1},{"t":230.9625,"v":-2},{"t":230.9875,"v":-5},
      {"t":231.0125,"v":0},{"t":231.0375,"v":-2},{"t":231.0625,"v":-3},{"t":231.0875,"v":3},
      {"t":231.1125,"v":-2},{"t":231.1375,"v":-1},{"t":231.1625,"v":-1},{"t":231.1875,"v":-5},
      {"t":231.2125,"v":-2},{"t":231.2375,"v":-1},{"t":231.2625,"v":1},{"t":231.2875,"v":5},
      {"t":231.3125,"v":5},{"t":231.3375,"v":2},{"t":231.3625,"v":4},{"t":231.3875,"v":9},
      {"t":231.4125,"v":7},{"t":231.4375,"v":4},{"t":231.4625,"v":6},{"t":231.4875,"v":10},
      {"t":231.5125,"v":12},{"t":231.5375,"v":17},{"t":231.5625,"v":12},{"t":231.5875,"v":4},
      {"t":231.6125,"v":-3},{"t":231.6375,"v":-3},{"t":231.6625,"v":-1},{"t":231.6875,"v":-10},
      {"t":231.7125,"v":-13},{"t":231.7375,"v":-3},{"t":231.7625,"v":-1},{"t":231.7875,"v":1},
      {"t":231.8125,"v":2},{"t":231.8375,"v":3},{"t":231.8625,"v":2},{"t":231.8875,"v":-8},
      {"t":231.9125,"v":-2},{"t":231.9375,"v":2},{"t":231.9625,"v":5},{"t":231.9875,"v":8},
      {"t":232.0125,"v":-2},{"t":232.0375,"v":0},{"t":232.0625,"v":-1},{"t":232.0875,"v":-11},
      {"t":232.1125,"v":-3},{"t":232.1375,"v":1},{"t":232.1625,"v":-1},{"t":232.1875,"v":6},
      {"t":232.2125,"v":2},{"t":232.2375,"v":-1},{"t":232.2625,"v":-3},{"t":232.2875,"v":-6},
      {"t":232.3125,"v":2},{"t":232.3375,"v":0},{"t":232.3625,"v":-1},{"t":232.3875,"v":7},
      {"t":232.4125,"v":2},{"t":232.4375,"v":3},{"t":232.4625,"v":4},{"t":232.4875,"v":1},
      {"t":232.5125,"v":-1},{"t":232.5375,"v":1},{"t":232.5625,"v":3},{"t":232.5875,"v":2},
      {"t":232.6125,"v":-1},{"t":232.6375,"v":-2},{"t":232.6625,"v":-1},{"t":232.6875,"v":-12},
      {"t":232.7125,"v":-12},{"t":232.7375,"v":-3},{"t":232.7625,"v":-2},{"t":232.7875,"v":0},
      {"t":232.8125,"v":0},{"t":232.8375,"v":0},{"t":232.8625,"v":2},{"t":232.8875,"v":-4},
      {"t":232.9125,"v":1},{"t":232.9375,"v":2},{"t":232.9625,"v":0},{"t":232.9875,"v":2}
    ],
    "up": [
      {"t":223,"v":-30},{"t":223.025,"v":-20},{"t":223.05,"v":10},{"t":223.075,"v":-5},
      {"t":223.1,"v":18},{"t":223.125,"v":-3},{"t":223.15,"v":12},{"t":223.175,"v":0},
      {"t":223.2,"v":20},{"t":223.225,"v":25},{"t":223.25,"v":-3},{"t":223.275,"v":15},
      {"t":223.3,"v":18},{"t":223.325,"v":5},{"t":223.35,"v":-5},{"t":223.375,"v":12},
      {"t":223.4,"v":-23},{"t":223.425,"v":-15},{"t":223.45,"v":10},{"t":223.475,"v":28},
      {"t":223.5,"v":32},{"t":223.525,"v":40},{"t":223.55,"v":20},{"t":223.575,"v":12},
      {"t":223.6,"v":-12},{"t":223.625,"v":5},{"t":223.65,"v":-17},{"t":223.675,"v":10},
      {"t":223.7,"v":15},{"t":223.725,"v":-8},{"t":223.75,"v":20},{"t":223.775,"v":-5},
      {"t":223.8,"v":-15},{"t":223.825,"v":-25},{"t":223.85,"v":-34},{"t":223.875,"v":-10},
      {"t":223.9,"v":-30},{"t":223.925,"v":0},{"t":223.95,"v":-12},{"t":223.975,"v":5},
      {"t":224,"v":10},{"t":224.025,"v":-8},{"t":224.05,"v":12},{"t":224.075,"v":-3},
      {"t":224.1,"v":5},{"t":224.125,"v":-10},{"t":224.15,"v":8},{"t":224.175,"v":-5},
      {"t":224.2,"v":12},{"t":224.225,"v":-6},{"t":224.25,"v":7},{"t":224.275,"v":-9},
      {"t":224.3,"v":4},{"t":224.325,"v":-5},{"t":224.35,"v":24},{"t":224.375,"v":10},
      {"t":224.4,"v":15},{"t":224.425,"v":-3},{"t":224.45,"v":18},{"t":224.475,"v":2},
      {"t":224.5,"v":-10},{"t":224.525,"v":12},{"t":224.55,"v":-5},{"t":224.575,"v":15},
      {"t":224.6,"v":-14},{"t":224.625,"v":8},{"t":224.65,"v":-8},{"t":224.675,"v":10},
      {"t":224.7,"v":-15},{"t":224.725,"v":2},{"t":224.75,"v":-18},{"t":224.775,"v":-3},
      {"t":224.8,"v":3},{"t":224.825,"v":-16},{"t":224.85,"v":-5},{"t":224.875,"v":-12},
      {"t":224.9,"v":-8},{"t":224.925,"v":5},{"t":224.95,"v":-15},{"t":224.975,"v":0},
      {"t":225,"v":-14},{"t":225.025,"v":3},{"t":225.05,"v":-10},{"t":225.075,"v":5},
      {"t":225.1,"v":-17},{"t":225.125,"v":-2},{"t":225.15,"v":-12},{"t":225.175,"v":8},
      {"t":225.2,"v":15},{"t":225.225,"v":-3},{"t":225.25,"v":20},{"t":225.275,"v":5},
      {"t":225.3,"v":18},{"t":225.325,"v":2},{"t":225.35,"v":12},{"t":225.375,"v":-5},
      {"t":225.4,"v":14},{"t":225.425,"v":-8},{"t":225.45,"v":10},{"t":225.475,"v":-12},
      {"t":225.5,"v":16},{"t":225.525,"v":-5},{"t":225.55,"v":6},{"t":225.575,"v":-10},
      {"t":225.6,"v":-15},{"t":225.625,"v":8},{"t":225.65,"v":-6},{"t":225.675,"v":12},
      {"t":225.7,"v":4},{"t":225.725,"v":-18},{"t":225.75,"v":-8},{"t":225.775,"v":6},
      {"t":225.8,"v":-12},{"t":225.825,"v":5},{"t":225.85,"v":-8},{"t":225.875,"v":10},
      {"t":225.9,"v":8},{"t":225.925,"v":-10},{"t":225.95,"v":3},{"t":225.975,"v":-5},
      {"t":226,"v":-8},{"t":226.025,"v":6},{"t":226.05,"v":-12},{"t":226.075,"v":15},
      {"t":226.1,"v":20},{"t":226.125,"v":-5},{"t":226.15,"v":12},{"t":226.175,"v":-8},
      {"t":226.2,"v":16},{"t":226.225,"v":0},{"t":226.25,"v":18},{"t":226.275,"v":-6},
      {"t":226.3,"v":-8},{"t":226.325,"v":10},{"t":226.35,"v":2},{"t":226.375,"v":20},
      {"t":226.4,"v":28},{"t":226.425,"v":5},{"t":226.45,"v":-5},{"t":226.475,"v":-20},
      {"t":226.5,"v":-28},{"t":226.525,"v":-10},{"t":226.55,"v":-22},{"t":226.575,"v":5},
      {"t":226.6,"v":-15},{"t":226.625,"v":17},{"t":226.65,"v":-25},{"t":226.675,"v":-30},
      {"t":226.7,"v":-39},{"t":226.725,"v":-10},{"t":226.75,"v":12},{"t":226.775,"v":5},
      {"t":226.8,"v":18},{"t":226.825,"v":5},{"t":226.85,"v":25},{"t":226.875,"v":10},
      {"t":226.9,"v":40},{"t":226.925,"v":30},{"t":226.95,"v":15},{"t":226.975,"v":22},
      {"t":227,"v":-5},{"t":227.025,"v":18},{"t":227.05,"v":-15},{"t":227.075,"v":10},
      {"t":227.1,"v":22},{"t":227.125,"v":-8},{"t":227.15,"v":12},{"t":227.175,"v":-20},
      {"t":227.2,"v":5},{"t":227.225,"v":-12},{"t":227.25,"v":15},{"t":227.275,"v":-6},
      {"t":227.3,"v":10},{"t":227.325,"v":-18},{"t":227.35,"v":4},{"t":227.375,"v":-10},
      {"t":227.4,"v":-22},{"t":227.425,"v":-5},{"t":227.45,"v":-18},{"t":227.475,"v":3},
      {"t":227.5,"v":15},{"t":227.525,"v":41},{"t":227.55,"v":35},{"t":227.575,"v":20},
      {"t":227.6,"v":10},{"t":227.625,"v":-12},{"t":227.65,"v":18},{"t":227.675,"v":-5},
      {"t":227.7,"v":20},{"t":227.725,"v":-15},{"t":227.75,"v":5},{"t":227.775,"v":-18},
      {"t":227.8,"v":15},{"t":227.825,"v":-8},{"t":227.85,"v":18},{"t":227.875,"v":-12},
      {"t":227.9,"v":5},{"t":227.925,"v":-10},{"t":227.95,"v":12},{"t":227.975,"v":-6},
      {"t":228,"v":10},{"t":228.025,"v":-5},{"t":228.05,"v":15},{"t":228.075,"v":-8},
      {"t":228.1,"v":3},{"t":228.125,"v":12},{"t":228.15,"v":-6},{"t":228.175,"v":8},
      {"t":228.2,"v":-4},{"t":228.225,"v":14},{"t":228.25,"v":-8},{"t":228.275,"v":5},
      {"t":228.3,"v":12},{"t":228.325,"v":-6},{"t":228.35,"v":10},{"t":228.375,"v":-3},
      {"t":228.4,"v":15},{"t":228.425,"v":-8},{"t":228.45,"v":6},{"t":228.475,"v":-5},
      {"t":228.5,"v":12},{"t":228.525,"v":-5},{"t":228.55,"v":8},{"t":228.575,"v":-20},
      {"t":228.6,"v":-10},{"t":228.625,"v":25},{"t":228.65,"v":15},{"t":228.675,"v":35},
      {"t":228.7,"v":5},{"t":228.725,"v":-15},{"t":228.75,"v":28},{"t":228.775,"v":35},
      {"t":228.8,"v":10},{"t":228.825,"v":-18},{"t":228.85,"v":15},{"t":228.875,"v":-8},
      {"t":228.9,"v":-12},{"t":228.925,"v":8},{"t":228.95,"v":22},{"t":228.975,"v":-5},
      {"t":229,"v":15},{"t":229.025,"v":-15},{"t":229.05,"v":10},{"t":229.075,"v":-8},
      {"t":229.1,"v":18},{"t":229.125,"v":-10},{"t":229.15,"v":5},{"t":229.175,"v":-16},
      {"t":229.2,"v":20},{"t":229.225,"v":-12},{"t":229.25,"v":30},{"t":229.275,"v":10},
      {"t":229.3,"v":37},{"t":229.325,"v":-15},{"t":229.35,"v":25},{"t":229.375,"v":-33},
      {"t":229.4,"v":-10},{"t":229.425,"v":20},{"t":229.45,"v":-25},{"t":229.475,"v":31},
      {"t":229.5,"v":5},{"t":229.525,"v":31},{"t":229.55,"v":-15},{"t":229.575,"v":10},
      {"t":229.6,"v":-28},{"t":229.625,"v":15},{"t":229.65,"v":-10},{"t":229.675,"v":20},
      {"t":229.7,"v":30},{"t":229.725,"v":-20},{"t":229.75,"v":12},{"t":229.775,"v":-12},
      {"t":229.8,"v":8},{"t":229.825,"v":-18},{"t":229.85,"v":15},{"t":229.875,"v":-10},
      {"t":229.9,"v":22},{"t":229.925,"v":-15},{"t":229.95,"v":10},{"t":229.975,"v":-5},
      {"t":230,"v":15},{"t":230.025,"v":-25},{"t":230.05,"v":5},{"t":230.075,"v":-12},
      {"t":230.1,"v":10},{"t":230.125,"v":-20},{"t":230.15,"v":-8},{"t":230.175,"v":12},
      {"t":230.2,"v":-30},{"t":230.225,"v":-15},{"t":230.25,"v":8},{"t":230.275,"v":-5},
      {"t":230.3,"v":18},{"t":230.325,"v":-10},{"t":230.35,"v":15},{"t":230.375,"v":-15},
      {"t":230.4,"v":22},{"t":230.425,"v":-5},{"t":230.45,"v":12},{"t":230.475,"v":-18},
      {"t":230.5,"v":20},{"t":230.525,"v":-12},{"t":230.55,"v":5},{"t":230.575,"v":-8},
      {"t":230.6,"v":15},{"t":230.625,"v":-16},{"t":230.65,"v":10},{"t":230.675,"v":-4},
      {"t":230.7,"v":18},{"t":230.725,"v":-8},{"t":230.75,"v":12},{"t":230.775,"v":-10},
      {"t":230.8,"v":-18},{"t":230.825,"v":10},{"t":230.85,"v":-12},{"t":230.875,"v":15},
      {"t":230.9,"v":-15},{"t":230.925,"v":8},{"t":230.95,"v":-10},{"t":230.975,"v":5},
      {"t":231,"v":22},{"t":231.025,"v":10},{"t":231.05,"v":25},{"t":231.075,"v":8},
      {"t":231.1,"v":18},{"t":231.125,"v":32},{"t":231.15,"v":12},{"t":231.175,"v":20},
      {"t":231.2,"v":15},{"t":231.225,"v":25},{"t":231.25,"v":6},{"t":231.275,"v":18},
      {"t":231.3,"v":-5},{"t":231.325,"v":20},{"t":231.35,"v":8},{"t":231.375,"v":25},
      {"t":231.4,"v":5},{"t":231.425,"v":30},{"t":231.45,"v":-8},{"t":231.475,"v":15},
      {"t":231.5,"v":-38},{"t":231.525,"v":-20},{"t":231.55,"v":-10},{"t":231.575,"v":-30},
      {"t":231.6,"v":-35},{"t":231.625,"v":-5},{"t":231.65,"v":20},{"t":231.675,"v":-15},
      {"t":231.7,"v":10},{"t":231.725,"v":-20},{"t":231.75,"v":25},{"t":231.775,"v":-8},
      {"t":231.8,"v":15},{"t":231.825,"v":-12},{"t":231.85,"v":50},{"t":231.875,"v":20},
      {"t":231.9,"v":-10},{"t":231.925,"v":8},{"t":231.95,"v":-22},{"t":231.975,"v":5},
      {"t":232,"v":12},{"t":232.025,"v":-15},{"t":232.05,"v":6},{"t":232.075,"v":-20},
      {"t":232.1,"v":-8},{"t":232.125,"v":10},{"t":232.15,"v":-12},{"t":232.175,"v":5},
      {"t":232.2,"v":30},{"t":232.225,"v":-5},{"t":232.25,"v":20},{"t":232.275,"v":-15},
      {"t":232.3,"v":15},{"t":232.325,"v":-10},{"t":232.35,"v":22},{"t":232.375,"v":-5},
      {"t":232.4,"v":18},{"t":232.425,"v":-12},{"t":232.45,"v":10},{"t":232.475,"v":-8},
      {"t":232.5,"v":25},{"t":232.525,"v":5},{"t":232.55,"v":20},{"t":232.575,"v":-10},
      {"t":232.6,"v":15},{"t":232.625,"v":-15},{"t":232.65,"v":12},{"t":232.675,"v":-5},
      {"t":232.7,"v":-8},{"t":232.725,"v":35},{"t":232.75,"v":20},{"t":232.775,"v":5},
      {"t":232.8,"v":-20},{"t":232.825,"v":-40},{"t":232.85,"v":-10},{"t":232.875,"v":15},
      {"t":232.9,"v":20},{"t":232.925,"v":-15},{"t":232.95,"v":10},{"t":232.975,"v":0},
      {"t":223.0125,"v":-25},{"t":223.0375,"v":-5},{"t":223.0625,"v":2},{"t":223.0875,"v":6},
      {"t":223.1125,"v":8},{"t":223.1375,"v":4},{"t":223.1625,"v":6},{"t":223.1875,"v":10},
      {"t":223.2125,"v":22},{"t":223.2375,"v":11},{"t":223.2625,"v":6},{"t":223.2875,"v":16},
      {"t":223.3125,"v":11},{"t":223.3375,"v":0},{"t":223.3625,"v":3},{"t":223.3875,"v":-6},
      {"t":223.4125,"v":-19},{"t":223.4375,"v":-2},{"t":223.4625,"v":19},{"t":223.4875,"v":30},
      {"t":223.5125,"v":36},{"t":223.5375,"v":30},{"t":223.5625,"v":16},{"t":223.5875,"v":0},
      {"t":223.6125,"v":-4},{"t":223.6375,"v":-6},{"t":223.6625,"v":-4},{"t":223.6875,"v":12},
      {"t":223.7125,"v":4},{"t":223.7375,"v":6},{"t":223.7625,"v":8},{"t":223.7875,"v":-10},
      {"t":223.8125,"v":-20},{"t":223.8375,"v":-30},{"t":223.8625,"v":-22},{"t":223.8875,"v":-20},
      {"t":223.9125,"v":-15},{"t":223.9375,"v":-6},{"t":223.9625,"v":-4},{"t":223.9875,"v":8},
      {"t":224.0125,"v":1},{"t":224.0375,"v":2},{"t":224.0625,"v":5},{"t":224.0875,"v":2},
      {"t":224.1125,"v":-2},{"t":224.1375,"v":-1},{"t":224.1625,"v":2},{"t":224.1875,"v":4},
      {"t":224.2125,"v":3},{"t":224.2375,"v":0},{"t":224.2625,"v":-1},{"t":224.2875,"v":-2},
      {"t":224.3125,"v":0},{"t":224.3375,"v":10},{"t":224.3625,"v":17},{"t":224.3875,"v":12},
      {"t":224.4125,"v":6},{"t":224.4375,"v":8},{"t":224.4625,"v":10},{"t":224.4875,"v":-4},
      {"t":224.5125,"v":1},{"t":224.5375,"v":4},{"t":224.5625,"v":5},{"t":224.5875,"v":0},
      {"t":224.6125,"v":-3},{"t":224.6375,"v":0},{"t":224.6625,"v":1},{"t":224.6875,"v":-2},
      {"t":224.7125,"v":-6},{"t":224.7375,"v":-8},{"t":224.7625,"v":-10},{"t":224.7875,"v":0},
      {"t":224.8125,"v":-6},{"t":224.8375,"v":-10},{"t":224.8625,"v":-8},{"t":224.8875,"v":-10},
      {"t":224.9125,"v":-2},{"t":224.9375,"v":-5},{"t":224.9625,"v":-7},{"t":224.9875,"v":-7},
      {"t":225.0125,"v":-5},{"t":225.0375,"v":-3},{"t":225.0625,"v":-2},{"t":225.0875,"v":-6},
      {"t":225.1125,"v":-9},{"t":225.1375,"v":-7},{"t":225.1625,"v":-2},{"t":225.1875,"v":12},
      {"t":225.2125,"v":6},{"t":225.2375,"v":8},{"t":225.2625,"v":12},{"t":225.2875,"v":11},
      {"t":225.3125,"v":10},{"t":225.3375,"v":7},{"t":225.3625,"v":3},{"t":225.3875,"v":5},
      {"t":225.4125,"v":3},{"t":225.4375,"v":1},{"t":225.4625,"v":-1},{"t":225.4875,"v":2},
      {"t":225.5125,"v":5},{"t":225.5375,"v":0},{"t":225.5625,"v":-2},{"t":225.5875,"v":-12},
      {"t":225.6125,"v":-3},{"t":225.6375,"v":1},{"t":225.6625,"v":3},{"t":225.6875,"v":8},
      {"t":225.7125,"v":-7},{"t":225.7375,"v":-13},{"t":225.7625,"v":-1},{"t":225.7875,"v":-3},
      {"t":225.8125,"v":-3},{"t":225.8375,"v":-1},{"t":225.8625,"v":1},{"t":225.8875,"v":9},
      {"t":225.9125,"v":-1},{"t":225.9375,"v":-3},{"t":225.9625,"v":-1},{"t":225.9875,"v":-6},
      {"t":226.0125,"v":-1},{"t":226.0375,"v":-3},{"t":226.0625,"v":2},{"t":226.0875,"v":18},
      {"t":226.1125,"v":8},{"t":226.1375,"v":4},{"t":226.1625,"v":2},{"t":226.1875,"v":4},
      {"t":226.2125,"v":8},{"t":226.2375,"v":9},{"t":226.2625,"v":6},{"t":226.2875,"v":-7},
      {"t":226.3125,"v":1},{"t":226.3375,"v":6},{"t":226.3625,"v":11},{"t":226.3875,"v":24},
      {"t":226.4125,"v":16},{"t":226.4375,"v":0},{"t":226.4625,"v":-12},{"t":226.4875,"v":-24},
      {"t":226.5125,"v":-19},{"t":226.5375,"v":-16},{"t":226.5625,"v":-8},{"t":226.5875,"v":-5},
      {"t":226.6125,"v":1},{"t":226.6375,"v":-4},{"t":226.6625,"v":-28},{"t":226.6875,"v":-35},
      {"t":226.7125,"v":-25},{"t":226.7375,"v":1},{"t":226.7625,"v":8},{"t":226.7875,"v":11},
      {"t":226.8125,"v":11},{"t":226.8375,"v":15},{"t":226.8625,"v":17},{"t":226.8875,"v":25},
      {"t":226.9125,"v":35},{"t":226.9375,"v":22},{"t":226.9625,"v":18},{"t":226.9875,"v":8},
      {"t":227.0125,"v":6},{"t":227.0375,"v":1},{"t":227.0625,"v":-2},{"t":227.0875,"v":16},
      {"t":227.1125,"v":7},{"t":227.1375,"v":2},{"t":227.1625,"v":-4},{"t":227.1875,"v":-7},
      {"t":227.2125,"v":-4},{"t":227.2375,"v":2},{"t":227.2625,"v":5},{"t":227.2875,"v":2},
      {"t":227.3125,"v":-4},{"t":227.3375,"v":-7},{"t":227.3625,"v":-3},{"t":227.3875,"v":-16},
      {"t":227.4125,"v":-13},{"t":227.4375,"v":-11},{"t":227.4625,"v":-8},{"t":227.4875,"v":9},
      {"t":227.5125,"v":28},{"t":227.5375,"v":38},{"t":227.5625,"v":27},{"t":227.5875,"v":15},
      {"t":227.6125,"v":-1},{"t":227.6375,"v":3},{"t":227.6625,"v":6},{"t":227.6875,"v":7},
      {"t":227.7125,"v":2},{"t":227.7375,"v":-5},{"t":227.7625,"v":-6},{"t":227.7875,"v":-1},
      {"t":227.8125,"v":3},{"t":227.8375,"v":5},{"t":227.8625,"v":3},{"t":227.8875,"v":-3},
      {"t":227.9125,"v":-2},{"t":227.9375,"v":1},{"t":227.9625,"v":3},{"t":227.9875,"v":2},
      {"t":228.0125,"v":2},{"t":228.0375,"v":5},{"t":228.0625,"v":3},{"t":228.0875,"v":-2},
      {"t":228.1125,"v":7},{"t":228.1375,"v":3},{"t":228.1625,"v":1},{"t":228.1875,"v":-2},
      {"t":228.2125,"v":5},{"t":228.2375,"v":3},{"t":228.2625,"v":-1},{"t":228.2875,"v":8},
      {"t":228.3125,"v":3},{"t":228.3375,"v":2},{"t":228.3625,"v":4},{"t":228.3875,"v":6},
      {"t":228.4125,"v":3},{"t":228.4375,"v":-1},{"t":228.4625,"v":0},{"t":228.4875,"v":4},
      {"t":228.5125,"v":3},{"t":228.5375,"v":1},{"t":228.5625,"v":-6},{"t":228.5875,"v":-15},
      {"t":228.6125,"v":8},{"t":228.6375,"v":20},{"t":228.6625,"v":25},{"t":228.6875,"v":20},
      {"t":228.7125,"v":-5},{"t":228.7375,"v":6},{"t":228.7625,"v":31},{"t":228.7875,"v":22},
      {"t":228.8125,"v":-4},{"t":228.8375,"v":-1},{"t":228.8625,"v":3},{"t":228.8875,"v":-10},
      {"t":228.9125,"v":-2},{"t":228.9375,"v":15},{"t":228.9625,"v":8},{"t":228.9875,"v":5},
      {"t":229.0125,"v":0},{"t":229.0375,"v":-2},{"t":229.0625,"v":1},{"t":229.0875,"v":5},
      {"t":229.1125,"v":4},{"t":229.1375,"v":-2},{"t":229.1625,"v":-5},{"t":229.1875,"v":2},
      {"t":229.2125,"v":4},{"t":229.2375,"v":9},{"t":229.2625,"v":20},{"t":229.2875,"v":24},
      {"t":229.3125,"v":11},{"t":229.3375,"v":5},{"t":229.3625,"v":-4},{"t":229.3875,"v":-20},
      {"t":229.4125,"v":5},{"t":229.4375,"v":-2},{"t":229.4625,"v":3},{"t":229.4875,"v":18},
      {"t":229.5125,"v":18},{"t":229.5375,"v":8},{"t":229.5625,"v":-2},{"t":229.5875,"v":-9},
      {"t":229.6125,"v":-6},{"t":229.6375,"v":2},{"t":229.6625,"v":5},{"t":229.6875,"v":25},
      {"t":229.7125,"v":5},{"t":229.7375,"v":-4},{"t":229.7625,"v":0},{"t":229.7875,"v":-2},
      {"t":229.8125,"v":-5},{"t":229.8375,"v":-1},{"t":229.8625,"v":2},{"t":229.8875,"v":6},
      {"t":229.9125,"v":4},{"t":229.9375,"v":-2},{"t":229.9625,"v":2},{"t":229.9875,"v":5},
      {"t":230.0125,"v":-5},{"t":230.0375,"v":-10},{"t":230.0625,"v":-3},{"t":230.0875,"v":-1},
      {"t":230.1125,"v":-5},{"t":230.1375,"v":-14},{"t":230.1625,"v":2},{"t":230.1875,"v":-9},
      {"t":230.2125,"v":-22},{"t":230.2375,"v":-3},{"t":230.2625,"v":1},{"t":230.2875,"v":6},
      {"t":230.3125,"v":4},{"t":230.3375,"v":2},{"t":230.3625,"v":0},{"t":230.3875,"v":4},
      {"t":230.4125,"v":8},{"t":230.4375,"v":3},{"t":230.4625,"v":-3},{"t":230.4875,"v":1},
      {"t":230.5125,"v":4},{"t":230.5375,"v":-3},{"t":230.5625,"v":-1},{"t":230.5875,"v":3},
      {"t":230.6125,"v":0},{"t":230.6375,"v":-3},{"t":230.6625,"v":3},{"t":230.6875,"v":7},
      {"t":230.7125,"v":5},{"t":230.7375,"v":2},{"t":230.7625,"v":1},{"t":230.7875,"v":-14},
      {"t":230.8125,"v":-4},{"t":230.8375,"v":-1},{"t":230.8625,"v":1},{"t":230.8875,"v":0},
      {"t":230.9125,"v":-3},{"t":230.9375,"v":-1},{"t":230.9625,"v":-2},{"t":230.9875,"v":13},
      {"t":231.0125,"v":16},{"t":231.0375,"v":17},{"t":231.0625,"v":16},{"t":231.0875,"v":13},
      {"t":231.1125,"v":25},{"t":231.1375,"v":22},{"t":231.1625,"v":16},{"t":231.1875,"v":17},
      {"t":231.2125,"v":20},{"t":231.2375,"v":15},{"t":231.2625,"v":12},{"t":231.2875,"v":6},
      {"t":231.3125,"v":7},{"t":231.3375,"v":14},{"t":231.3625,"v":16},{"t":231.3875,"v":15},
      {"t":231.4125,"v":17},{"t":231.4375,"v":11},{"t":231.4625,"v":3},{"t":231.4875,"v":-12},
      {"t":231.5125,"v":-29},{"t":231.5375,"v":-15},{"t":231.5625,"v":-20},{"t":231.5875,"v":-33},
      {"t":231.6125,"v":-20},{"t":231.6375,"v":7},{"t":231.6625,"v":2},{"t":231.6875,"v":-2},
      {"t":231.7125,"v":-5},{"t":231.7375,"v":2},{"t":231.7625,"v":8},{"t":231.7875,"v":3},
      {"t":231.8125,"v":1},{"t":231.8375,"v":19},{"t":231.8625,"v":35},{"t":231.8875,"v":5},
      {"t":231.9125,"v":-1},{"t":231.9375,"v":-7},{"t":231.9625,"v":-8},{"t":231.9875,"v":8},
      {"t":232.0125,"v":-1},{"t":232.0375,"v":-4},{"t":232.0625,"v":-7},{"t":232.0875,"v":-14},
      {"t":232.1125,"v":1},{"t":232.1375,"v":-1},{"t":232.1625,"v":-3},{"t":232.1875,"v":17},
      {"t":232.2125,"v":12},{"t":232.2375,"v":7},{"t":232.2625,"v":2},{"t":232.2875,"v":0},
      {"t":232.3125,"v":2},{"t":232.3375,"v":6},{"t":232.3625,"v":8},{"t":232.3875,"v":6},
      {"t":232.4125,"v":3},{"t":232.4375,"v":-1},{"t":232.4625,"v":1},{"t":232.4875,"v":8},
      {"t":232.5125,"v":15},{"t":232.5375,"v":12},{"t":232.5625,"v":5},{"t":232.5875,"v":2},
      {"t":232.6125,"v":0},{"t":232.6375,"v":-1},{"t":232.6625,"v":3},{"t":232.6875,"v":-6},
      {"t":232.7125,"v":13},{"t":232.7375,"v":27},{"t":232.7625,"v":12},{"t":232.7875,"v":-7},
      {"t":232.8125,"v":-30},{"t":232.8375,"v":-25},{"t":232.8625,"v":2},{"t":232.8875,"v":17},
      {"t":232.9125,"v":2},{"t":232.9375,"v":-2},{"t":232.9625,"v":5},{"t":232.9875,"v":2}
    ]
  },
  "vconcat": [
    {
      "width": 809, "height": 160,
      "title": {"text": "Coordinate repeatability of ZIM2", "frame": "group", "anchor": "middle", "offset": 5, "fontSize": 15, "fontWeight": "normal", "font": "Liberation Sans", "color": "black"},
      "layer": [
        {
          "data": {"name": "mN"},
          "mark": {"type": "line", "color": "black", "strokeWidth": 1},
          "encoding": {
            "x": {"field": "t", "type": "quantitative", "scale": {"domain": [223, 233], "nice": false}, "axis": null},
            "y": {"field": "v", "type": "quantitative", "scale": {"domain": [-30, 30], "nice": false}, "axis": {"title": "North [mm]", "values": [-30, -20, -10, 0, 10, 20, 30], "titlePadding": 9}}
          }
        },
        {
          "data": {"name": "north"},
          "mark": {"type": "line", "strokeWidth": 1.5, "point": {"filled": true, "size": 55}},
          "encoding": {
            "x": {"field": "t", "type": "quantitative", "axis": null},
            "y": {"field": "v", "type": "quantitative", "axis": {"orient": "right", "labels": false, "title": null, "values": [-30, -20, -10, 0, 10, 20, 30]}},
            "color": {"datum": "North", "type": "nominal", "scale": {"range": ["#ff0000"]},
              "legend": {"title": "North", "legendX": 700, "legendY": 9, "labelExpr": "''", "symbolFillColor": "#ff0000", "symbolStrokeColor": "#ff6a6a"}}
          }
        },
        {
          "mark": {"type": "text", "color": "#ff0000", "align": "left", "baseline": "alphabetic", "fontSize": 15, "font": "Liberation Sans"},
          "encoding": {
            "x": {"datum": 224, "type": "quantitative", "axis": null},
            "y": {"datum": 22.3, "type": "quantitative", "axis": null},
            "text": {"value": "std ± 5.58 mm"}
          }
        }
      ],
      "resolve": {"axis": {"y": "independent"}}
    },
    {
      "width": 809, "height": 160,
      "layer": [
        {
          "data": {"name": "mE"},
          "mark": {"type": "line", "color": "black", "strokeWidth": 1},
          "encoding": {
            "x": {"field": "t", "type": "quantitative", "scale": {"domain": [223, 233], "nice": false}, "axis": null},
            "y": {"field": "v", "type": "quantitative", "scale": {"domain": [-30, 30], "nice": false}, "axis": {"title": "East [mm]", "values": [-30, -20, -10, 0, 10, 20, 30], "titlePadding": 9}}
          }
        },
        {
          "data": {"name": "east"},
          "mark": {"type": "line", "strokeWidth": 1.5, "point": {"filled": true, "size": 55}},
          "encoding": {
            "x": {"field": "t", "type": "quantitative", "axis": null},
            "y": {"field": "v", "type": "quantitative", "axis": {"orient": "right", "labels": false, "title": null, "values": [-30, -20, -10, 0, 10, 20, 30]}},
            "color": {"datum": "East", "type": "nominal", "scale": {"range": ["#00c000"]},
              "legend": {"title": "East", "legendX": 707, "legendY": 9, "labelExpr": "''", "symbolFillColor": "#00c000", "symbolStrokeColor": "#55d455"}}
          }
        },
        {
          "mark": {"type": "text", "color": "#00c000", "align": "left", "baseline": "alphabetic", "fontSize": 15, "font": "Liberation Sans"},
          "encoding": {
            "x": {"datum": 224, "type": "quantitative", "axis": null},
            "y": {"datum": 22.5, "type": "quantitative", "axis": null},
            "text": {"value": "std ± 4.57 mm"}
          }
        }
      ],
      "resolve": {"axis": {"y": "independent"}}
    },
    {
      "width": 809, "height": 155,
      "title": {"text": "22/08/26 23:21", "orient": "bottom", "anchor": "start", "frame": "group", "dx": -56, "offset": 2, "fontSize": 15, "fontWeight": "normal", "font": "Liberation Sans", "color": "black"},
      "layer": [
        {
          "data": {"name": "mU"},
          "mark": {"type": "line", "color": "black", "strokeWidth": 1},
          "encoding": {
            "x": {"field": "t", "type": "quantitative", "scale": {"domain": [223, 233], "nice": false},
              "axis": {"title": "DOY", "values": [223, 224, 225, 226, 227, 228, 229, 230, 231, 232], "labelPadding": 16, "titlePadding": 4}},
            "y": {"field": "v", "type": "quantitative", "scale": {"domain": [-60, 60], "nice": false}, "axis": {"title": "Up [mm]", "values": [-60, -40, -20, 0, 20, 40, 60], "titlePadding": 9}}
          }
        },
        {
          "data": {"name": "up"},
          "mark": {"type": "line", "strokeWidth": 1.5, "point": {"filled": true, "size": 55}},
          "encoding": {
            "x": {"field": "t", "type": "quantitative", "axis": {"orient": "top", "labels": false, "title": null, "values": [223, 224, 225, 226, 227, 228, 229, 230, 231, 232]}},
            "y": {"field": "v", "type": "quantitative", "axis": {"orient": "right", "labels": false, "title": null, "values": [-60, -40, -20, 0, 20, 40, 60]}},
            "color": {"datum": "Up", "type": "nominal", "scale": {"range": ["#0080ff"]},
              "legend": {"title": "Up", "legendX": 718, "legendY": 9, "labelExpr": "''", "symbolFillColor": "#0080ff", "symbolStrokeColor": "#5aaaff"}}
          }
        },
        {
          "mark": {"type": "text", "color": "#0080ff", "align": "left", "baseline": "alphabetic", "fontSize": 15, "font": "Liberation Sans"},
          "encoding": {
            "x": {"datum": 224, "type": "quantitative", "axis": null},
            "y": {"datum": 44.1, "type": "quantitative", "axis": null},
            "text": {"value": "std ± 11.52 mm"}
          }
        }
      ],
      "resolve": {"axis": {"x": "independent", "y": "independent"}}
    }
  ],
  "resolve": {"scale": {"color": "independent"}, "legend": {"color": "independent"}}
}
